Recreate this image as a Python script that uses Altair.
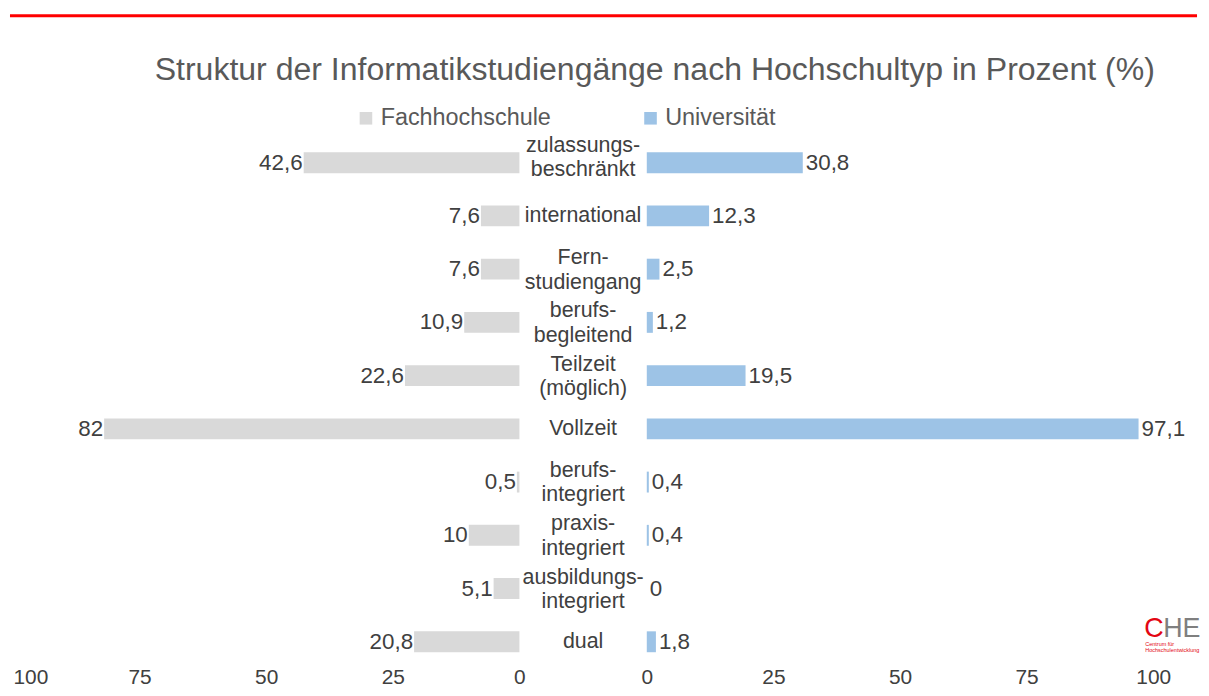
import altair as alt
import pandas as pd

# ---------------- data ----------------
kategorien = ["zulassungs-beschränkt", "international", "Fernstudiengang", "berufsbegleitend",
              "Teilzeit (möglich)", "Vollzeit", "berufsintegriert", "praxisintegriert",
              "ausbildungsintegriert", "dual"]
beschriftung = ["zulassungs-\nbeschränkt", "international", "Fern-\nstudiengang", "berufs-\nbegleitend",
                "Teilzeit\n(möglich)", "Vollzeit", "berufs-\nintegriert", "praxis-\nintegriert",
                "ausbildungs-\nintegriert", "dual"]
fachhochschule = [42.6, 7.6, 7.6, 10.9, 22.6, 82, 0.5, 10, 5.1, 20.8]
universitaet = [30.8, 12.3, 2.5, 1.2, 19.5, 97.1, 0.4, 0.4, 0, 1.8]
achsen_werte = [0, 25, 50, 75, 100]
typen = ["Fachhochschule", "Universität"]
titel = "Struktur der Informatikstudiengänge nach Hochschultyp in Prozent (%)"

# ---------------- style ----------------
FONT = "Liberation Sans"
GRAU = "#D9D9D9"
BLAU = "#9DC3E6"
TXT = "#404040"
TXT2 = "#595959"
ROT = "#FF0000"

df = pd.DataFrame({"kat": kategorien, "label": beschriftung,
                   "fh": fachhochschule, "uni": universitaet})

y_enc = alt.Y("kat:N", sort=kategorien, axis=None,
              scale=alt.Scale(paddingInner=0, paddingOuter=0))

legende = alt.Legend(orient="none", legendX=343, legendY=97, direction="horizontal",
                     title=None, symbolType="square", symbolSize=160, symbolStrokeWidth=0,
                     symbolOpacity=1, labelFontSize=23.5, labelColor=TXT2, labelFont=FONT,
                     labelOffset=3, labelLimit=400, columnPadding=88, padding=0)
farbe = alt.Color("typ:N", scale=alt.Scale(domain=typen, range=[GRAU, BLAU]), legend=legende)

def achse(align):
    return alt.Axis(values=achsen_werte, grid=False, domain=False, ticks=False, title=None,
                    labelFontSize=21, labelColor=TXT, labelFont=FONT, labelPadding=9,
                    labelBaseline="middle", labelAlign=align)

# ---------------- left panel (Fachhochschule) ----------------
links_basis = alt.Chart(df).transform_calculate(
    typ="'Fachhochschule'",
    wert="datum.fh",
    txt="replace(toString(datum.fh), '.', ',')",
)
links_x = alt.X("wert:Q", scale=alt.Scale(domain=[0, 100], reverse=True, nice=False),
                axis=achse({"condition": {"test": "datum.value == 100", "value": "left"},
                            "value": "center"}))
links_balken = links_basis.mark_bar(height=21).encode(y=y_enc, x=links_x, color=farbe)
links_text = links_basis.mark_text(align="right", baseline="middle", dx=-1, fontSize=22.5,
                                   color=TXT, font=FONT).encode(
    y=y_enc, x=alt.X("wert:Q"), text="txt:N")
links = alt.layer(links_balken, links_text).properties(width=509, height=535)

# ---------------- middle panel (labels) ----------------
mitte_basis = alt.Chart(df).transform_calculate(
    zeilen="indexof(datum.label, '\\n') >= 0 ? 2 : 1")

mitte_ein = mitte_basis.transform_filter("datum.zeilen == 1").mark_text(
    align="center", baseline="middle", fontSize=21.5, color=TXT, font=FONT).encode(
    y=y_enc, x=alt.value(64), text="label:N")
mitte_zwei = mitte_basis.transform_filter(
    "datum.zeilen == 2 && datum.kat != 'zulassungs-beschränkt'").mark_text(
    align="center", baseline="middle", fontSize=21.5, color=TXT, font=FONT,
    lineBreak="\n", lineHeight=24.5, dy=-11).encode(
    y=y_enc, x=alt.value(64), text="label:N")
mitte_oben = mitte_basis.transform_filter("datum.kat == 'zulassungs-beschränkt'").mark_text(
    align="center", baseline="middle", fontSize=21.5, color=TXT, font=FONT,
    lineBreak="\n", lineHeight=24.5, dy=-17).encode(
    y=y_enc, x=alt.value(64), text="label:N")
mitte = alt.layer(mitte_ein, mitte_zwei, mitte_oben).properties(width=128, height=535)

# ---------------- right panel (Universität) ----------------
rechts_basis = alt.Chart(df).transform_calculate(
    typ="'Universität'",
    wert="datum.uni",
    txt="replace(toString(datum.uni), '.', ',')",
)
rechts_x = alt.X("wert:Q", scale=alt.Scale(domain=[0, 100], nice=False), axis=achse("center"))
rechts_balken = rechts_basis.mark_bar(height=21).encode(y=y_enc, x=rechts_x, color=farbe)
rechts_text = rechts_basis.mark_text(align="left", baseline="middle", dx=3, fontSize=22.5,
                                     color=TXT, font=FONT).encode(
    y=y_enc, x=alt.X("wert:Q"), text="txt:N")

logo_c = alt.Chart(pd.DataFrame({"t": ["C"]})).mark_text(
    align="left", baseline="alphabetic", fontSize=27, color="#E30613", font=FONT).encode(
    text="t:N", x=alt.value(500), y=alt.value(503))
logo_he = alt.Chart(pd.DataFrame({"t": ["HE"]})).mark_text(
    align="left", baseline="alphabetic", fontSize=27, color="#7F7F7F", font=FONT).encode(
    text="t:N", x=alt.value(519), y=alt.value(503))
logo_sub = alt.Chart(pd.DataFrame({"t": ["Centrum für\nHochschulentwicklung"]})).mark_text(
    align="left", baseline="top", fontSize=5.5, color="#E30613", font=FONT,
    lineBreak="\n", lineHeight=7).encode(
    text="t:N", x=alt.value(501), y=alt.value(508))

rechts = alt.layer(rechts_balken, rechts_text, logo_c, logo_he, logo_sub).properties(
    width=509, height=535)

# ---------------- header (red line + title) ----------------
kopf_df = pd.DataFrame({"t": [titel]})
linie = alt.Chart(kopf_df).mark_rule(color=ROT, strokeWidth=3).encode(
    x=alt.value(-3), x2=alt.value(1190), y=alt.value(6))
titel_text = alt.Chart(kopf_df).mark_text(align="center", baseline="middle", fontSize=32.2,
                                          color=TXT2, font=FONT).encode(
    text="t:N", x=alt.value(645), y=alt.value(61))
kopf = alt.layer(linie, titel_text).properties(width=1146, height=127)

koerper = alt.hconcat(links, mitte, rechts, spacing=0, bounds="flush")

chart = alt.vconcat(kopf, koerper, spacing=0, bounds="flush").properties(
    padding={"left": 0, "top": 0, "right": 0, "bottom": 0},
    background="white",
).configure(font=FONT).configure_view(stroke="transparent", strokeWidth=0)

chart.save("out.html", embed_options={"renderer": "svg", "actions": False})
